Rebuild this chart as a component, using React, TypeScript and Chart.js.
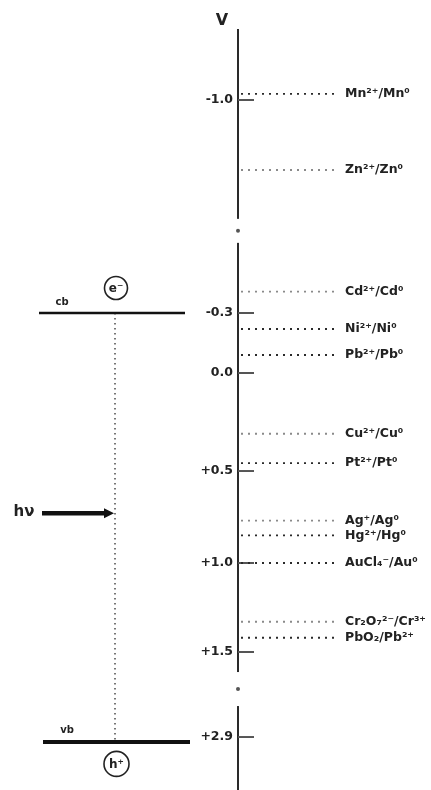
import React, { useEffect, useRef } from 'react';
import { Chart, registerables, LinearScale } from 'chart.js';

Chart.register(...registerables);

// ---------------- data ----------------
const tickValues = [-1.0, -0.3, 0.0, 0.5, 1.0, 1.5, 2.9];
const tickLabels = ['-1.0', '-0.3', '0.0', '+0.5', '+1.0', '+1.5', '+2.9'];

const couples = [
  'Mn²⁺/Mn⁰',
  'Zn²⁺/Zn⁰',
  'Cd²⁺/Cd⁰',
  'Ni²⁺/Ni⁰',
  'Pb²⁺/Pb⁰',
  'Cu²⁺/Cu⁰',
  'Pt²⁺/Pt⁰',
  'Ag⁺/Ag⁰',
  'Hg²⁺/Hg⁰',
  'AuCl₄⁻/Au⁰',
  'Cr₂O₇²⁻/Cr³⁺',
  'PbO₂/Pb²⁺',
];
const couplePotentials = [-1.02, -0.77, -0.37, -0.22, -0.09, 0.31, 0.46, 0.77, 0.85, 1.0, 1.33, 1.42];

const bandNames = ['cb', 'vb'];
const bandPotentials = [-0.3, 2.98];
const carrierLabels = ['e⁻', 'h⁺'];
const excitationLabel = 'hν';
const excitationPotential = 0.73;
const axisTitle = 'V';
const axisRange = [-1.23, 3.77];
const axisBreaks = [-0.57, 2.11];

// ---------------- layout / style ----------------
// fraction of the plot height at which each tick value sits (schematic, broken axis)
const TICK_FRAC = [0.0921, 0.3724, 0.4513, 0.5803, 0.7013, 0.8184, 0.9303];
const LIGHT = new Set([1, 2, 5, 7, 10]);
const BREAK_HALF = [12, 17];
const FONT = '"DejaVu Sans", "Liberation Sans", Arial, sans-serif';

class BrokenScale extends LinearScale {
  static id = 'broken';
  static defaults = LinearScale.defaults;
  knots() {
    const v = [this.min, ...tickValues, this.max];
    const f = [0, ...TICK_FRAC, 1];
    return [v, f];
  }
  getPixelForValue(value: number) {
    const [v, f] = this.knots();
    let i = 0;
    while (i < v.length - 2 && value > v[i + 1]) i++;
    const frac = f[i] + ((value - v[i]) / (v[i + 1] - v[i])) * (f[i + 1] - f[i]);
    return this.top + frac * (this.bottom - this.top);
  }
  getValueForPixel(pixel: number) {
    const [v, f] = this.knots();
    const frac = (pixel - this.top) / (this.bottom - this.top);
    let i = 0;
    while (i < f.length - 2 && frac > f[i + 1]) i++;
    return v[i] + ((frac - f[i]) / (f[i + 1] - f[i])) * (v[i + 1] - v[i]);
  }
}
Chart.register(BrokenScale as any);

export default function App() {
  const ref = useRef<HTMLCanvasElement>(null);

  useEffect(() => {
    if (!ref.current) return;

    const lineBase = { showLine: true, pointRadius: 0, clip: false as any, borderCapStyle: 'butt' };

    const coupleSets = couples.map((name, i) => ({
      ...lineBase,
      label: name,
      data: [
        { x: 3, y: couplePotentials[i] },
        { x: 97, y: couplePotentials[i] },
      ],
      borderColor: LIGHT.has(i) ? '#8a8a8a' : '#2a2a2a',
      borderWidth: 1.8,
      borderDash: [2, 5],
    }));

    const tickSet = {
      label: 'ticks',
      data: tickValues.map((v) => ({ x: 8, y: v })),
      showLine: false,
      pointStyle: 'line',
      pointRadius: 8,
      pointBorderWidth: 2,
      borderColor: '#555',
      pointBorderColor: '#555',
      clip: false as any,
    };

    const cbSet = {
      ...lineBase,
      label: bandNames[0],
      data: [
        { x: -199, y: bandPotentials[0] },
        { x: -53, y: bandPotentials[0] },
      ],
      borderColor: '#111',
      borderWidth: 2.5,
    };
    const vbSet = {
      ...lineBase,
      label: bandNames[1],
      data: [
        { x: -195, y: bandPotentials[1] },
        { x: -48, y: bandPotentials[1] },
      ],
      borderColor: '#111',
      borderWidth: 4,
    };
    const excSet = {
      ...lineBase,
      label: 'excitation',
      data: [
        { x: -123, y: bandPotentials[0] },
        { x: -123, y: bandPotentials[1] },
      ],
      borderColor: '#555',
      borderWidth: 1.6,
      borderDash: [1.5, 3.5],
    };
    const arrowSet = {
      ...lineBase,
      label: excitationLabel,
      data: [
        { x: -196, y: excitationPotential },
        { x: -132, y: excitationPotential },
      ],
      borderColor: '#111',
      borderWidth: 4.5,
    };

    const decor = {
      id: 'decor',
      afterDatasetsDraw(chart: any) {
        const ctx = chart.ctx;
        const y = chart.scales.y;
        const x = chart.scales.x;
        const ax = chart.chartArea.left;
        ctx.save();
        // axis breaks
        axisBreaks.forEach((b, i) => {
          const py = y.getPixelForValue(b);
          ctx.fillStyle = '#fff';
          ctx.fillRect(ax - 3, py - BREAK_HALF[i], 6, BREAK_HALF[i] * 2);
          ctx.fillStyle = '#555';
          ctx.beginPath();
          ctx.arc(ax, py, 2, 0, Math.PI * 2);
          ctx.fill();
        });
        // arrow head
        const hy = y.getPixelForValue(excitationPotential);
        const tipX = x.getPixelForValue(-124);
        ctx.fillStyle = '#111';
        ctx.beginPath();
        ctx.moveTo(tipX, hy);
        ctx.lineTo(tipX - 10, hy - 5);
        ctx.lineTo(tipX - 10, hy + 5);
        ctx.closePath();
        ctx.fill();

        ctx.fillStyle = '#222';
        ctx.textAlign = 'center';
        ctx.textBaseline = 'middle';
        // axis title
        ctx.font = `bold 16px ${FONT}`;
        ctx.fillText(axisTitle, ax - 16, chart.chartArea.top - 9);
        // band labels
        ctx.font = `bold 10px ${FONT}`;
        ctx.fillText(bandNames[0], x.getPixelForValue(-176), y.getPixelForValue(bandPotentials[0]) - 11);
        ctx.fillText(bandNames[1], x.getPixelForValue(-171), y.getPixelForValue(bandPotentials[1]) - 11);
        // carriers
        const circles = [
          { cx: x.getPixelForValue(-122), cy: y.getPixelForValue(bandPotentials[0]) - 25, r: 11.5 },
          { cx: x.getPixelForValue(-121.5), cy: y.getPixelForValue(bandPotentials[1]) + 22, r: 12.5 },
        ];
        circles.forEach((c, i) => {
          ctx.beginPath();
          ctx.arc(c.cx, c.cy, c.r, 0, Math.PI * 2);
          ctx.fillStyle = '#fff';
          ctx.fill();
          ctx.lineWidth = 1.6;
          ctx.strokeStyle = '#222';
          ctx.stroke();
          ctx.fillStyle = '#222';
          ctx.font = `bold 12px ${FONT}`;
          ctx.fillText(carrierLabels[i], c.cx, c.cy + 1);
        });
        // photon label
        ctx.font = `bold 15px ${FONT}`;
        ctx.fillText(excitationLabel, x.getPixelForValue(-214), hy - 1);
        ctx.restore();
      },
    };

    const chart = new Chart(ref.current, {
      type: 'scatter',
      data: {
        datasets: [...coupleSets, tickSet, cbSet, vbSet, excSet, arrowSet] as any,
      },
      options: {
        responsive: false,
        animation: false,
        devicePixelRatio: 1,
        events: [],
        layout: { autoPadding: false, padding: { left: 198, right: 0, top: 30, bottom: 0 } },
        plugins: { legend: { display: false }, tooltip: { enabled: false }, title: { display: false } },
        scales: {
          x: { type: 'linear', min: 0, max: 100, display: false },
          y: {
            type: 'broken' as any,
            position: 'left',
            min: axisRange[0],
            max: axisRange[1],
            bounds: 'data',
            afterBuildTicks: (s: any) => {
              s.ticks = tickValues.map((v) => ({ value: v }));
            },
            afterFit: (s: any) => {
              s.width = 40;
              s.paddingTop = 0;
              s.paddingBottom = 0;
            },
            grid: { display: false, drawTicks: false },
            border: { display: true, color: '#2a2a2a', width: 2 },
            ticks: {
              autoSkip: false,
              padding: 5,
              color: '#222',
              font: { family: FONT, size: 12.5, weight: 'bold' },
              callback: (_v: any, i: number) => tickLabels[i],
            },
          },
          y2: {
            type: 'broken' as any,
            position: 'right',
            min: axisRange[0],
            max: axisRange[1],
            bounds: 'data',
            afterBuildTicks: (s: any) => {
              s.ticks = couplePotentials.map((v) => ({ value: v }));
            },
            afterFit: (s: any) => {
              s.width = 93;
              s.paddingTop = 0;
              s.paddingBottom = 0;
            },
            grid: { display: false, drawTicks: false },
            border: { display: false },
            ticks: {
              autoSkip: false,
              padding: 7,
              color: '#222',
              font: { family: FONT, size: 12.5, weight: 'bold' },
              callback: (_v: any, i: number) => couples[i],
            },
          },
        },
      } as any,
      plugins: [decor],
    });

    return () => chart.destroy();
  }, []);

  return (
    <div style={{ position: 'fixed', left: 0, top: 0, width: 431, height: 790, background: '#fff' }}>
      <canvas ref={ref} width={431} height={790} style={{ display: 'block', width: '431px', height: '790px' }} />
    </div>
  );
}
